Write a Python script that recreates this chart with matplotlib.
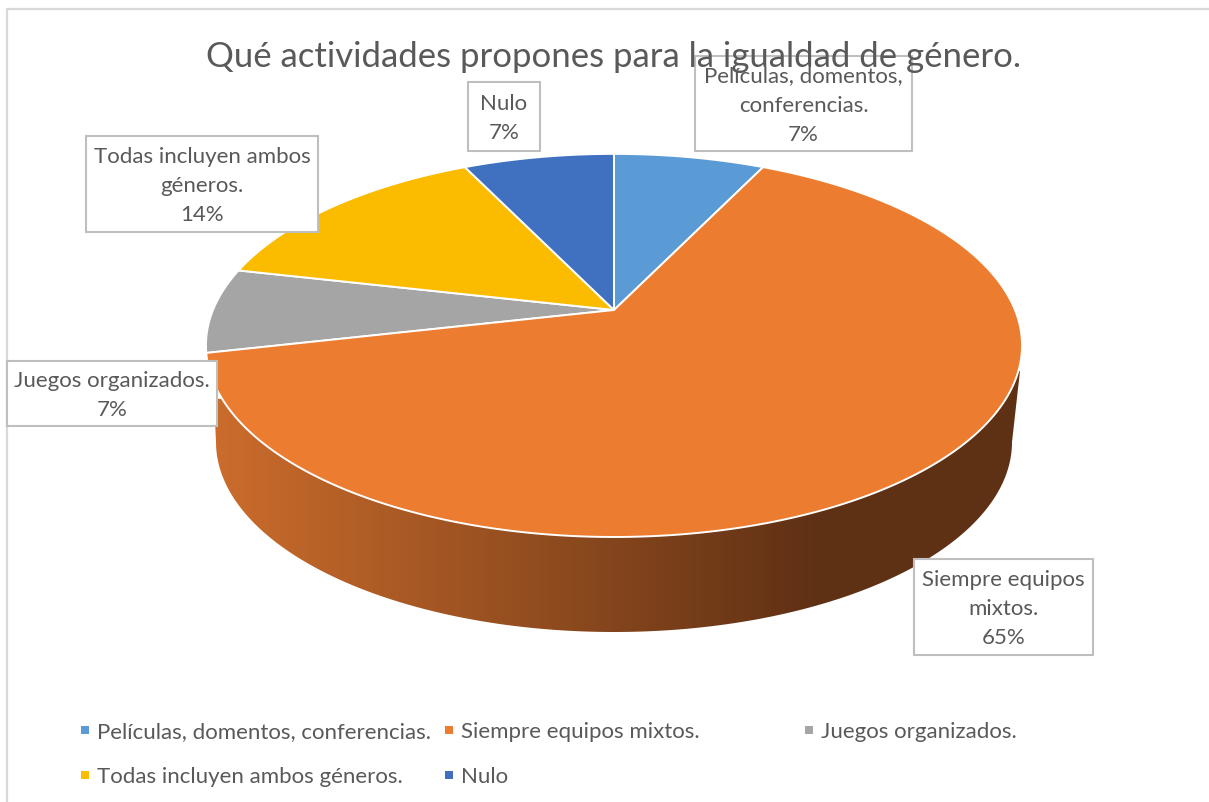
import numpy as np
import matplotlib
matplotlib.use("Agg")
import matplotlib.pyplot as plt
from matplotlib.colors import LinearSegmentedColormap
from matplotlib.patches import Polygon, Rectangle

plt.rcParams['font.family'] = ['Lato', 'DejaVu Sans']

# data
categories = ["Películas, domentos, conferencias.", "Siempre equipos mixtos.",
              "Juegos organizados.", "Todas incluyen ambos géneros.", "Nulo"]
counts = [1, 9, 1, 2, 1]
pct_labels = ["7%", "65%", "7%", "14%", "7%"]
box_text = ["Películas, domentos,\nconferencias.", "Siempre equipos\nmixtos.",
            "Juegos organizados.", "Todas incluyen ambos\ngéneros.", "Nulo"]
colors = ["#5B9BD5", "#EC7C30", "#A5A5A5", "#FBBC00", "#4070C0"]
title = "Qué actividades propones para la igualdad de género."

grey = "#595959"

fig = plt.figure(figsize=(12.09, 8.03), dpi=100)
ax = fig.add_axes([0, 0, 1, 1])
ax.set_xlim(0, 1209)
ax.set_ylim(803, 0)
ax.axis('off')

# chart frame, right and bottom edges are cropped off
ax.plot([7, 7, 1209], [803, 10, 10], color="#D9D9D9", lw=1.6, zorder=1)

# perspective projection of the disc
cx, cy = 614, 311
A, B, k = 401, 185, 0.185

def project(theta):
    u, v = np.sin(theta), np.cos(theta)
    d = 1 + k * v
    return cx + A * u / d, cy - B * v / d

# side wall, only the big slice shows it
t = np.linspace(0, np.pi, 200)
wx = 614 + 398 * np.cos(t)
wy = 443 + 190 * np.sin(t)
wall = np.column_stack([np.r_[1020, wx, 214], np.r_[372, wy, 400]])
cmap = LinearSegmentedColormap.from_list("wall", ["#CB6C2C", "#5E3014"])
grad = np.clip((np.linspace(200, 1030, 830) - 216) / (825 - 216), 0, 1)[None, :]
im = ax.imshow(grad, cmap=cmap, extent=(200, 1030, 640, 360), aspect='auto', zorder=2)
ax.set_xlim(0, 1209)
ax.set_ylim(803, 0)
clip = Polygon(wall, closed=True, transform=ax.transData, fc='none', ec='none')
ax.add_patch(clip)
im.set_clip_path(clip)

# top slices
edges = np.cumsum([0] + counts) / sum(counts) * 2 * np.pi
for i in range(len(counts)):
    th = np.linspace(edges[i], edges[i + 1], 200)
    px, py = project(th)
    ax.fill(np.r_[cx, px], np.r_[cy, py], facecolor=colors[i], edgecolor="white",
            lw=1.4, zorder=3 if i != 1 else 3.1)

# data labels
boxes = [(695, 57, 912, 152), (914, 560, 1093, 656), (7, 362, 217, 427),
         (86, 137, 318, 233), (468, 83, 540, 152)]
for i in range(len(counts)):
    x0, y0, x1, y1 = boxes[i]
    ax.add_patch(Rectangle((x0, y0), x1 - x0, y1 - y0, fc="white", ec="#BFBFBF", lw=1.5, zorder=4))
    ax.text((x0 + x1) / 2, (y0 + y1) / 2 + 1, box_text[i] + "\n" + pct_labels[i], ha='center', va='center',
            color=grey, fontsize=16, linespacing=1.58, zorder=5)

# title goes over the label box
ax.text(614, 57, title, ha='center', va='center', color=grey, fontsize=25, zorder=6)

# legend
leg_x = [85, 449, 809, 85, 449]
leg_y = [731, 731, 731, 776, 776]
for i in range(len(categories)):
    ax.add_patch(Rectangle((leg_x[i] - 4, leg_y[i] - 4), 8, 8, fc=colors[i], ec='none', zorder=5))
    ax.text(leg_x[i] + 12, leg_y[i] + 1, categories[i], ha='left', va='center', color=grey, fontsize=16, zorder=5)

fig.savefig("out.png", dpi=100)
